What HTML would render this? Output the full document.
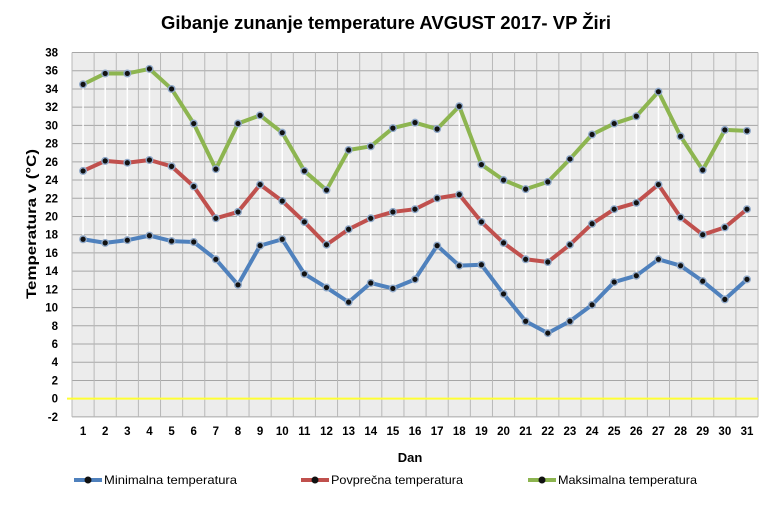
<!DOCTYPE html>
<html><head><meta charset="utf-8"><style>body{margin:0;background:#fff}svg{display:block;font-family:"Liberation Sans",sans-serif}</style></head>
<body>
<svg id="s" width="770" height="505" xmlns="http://www.w3.org/2000/svg">
<text x="386" y="29" text-anchor="middle" font-size="18" font-weight="bold" textLength="450" lengthAdjust="spacingAndGlyphs">Gibanje zunanje temperature AVGUST 2017- VP Žiri</text>
<text transform="translate(36,224) rotate(-90)" text-anchor="middle" font-size="14" font-weight="bold" textLength="150" lengthAdjust="spacingAndGlyphs">Temperatura v (°C)</text>
<text x="410" y="462" text-anchor="middle" font-size="13" font-weight="bold">Dan</text>
</svg>
<script>
const s=document.getElementById('s'),NS='http://www.w3.org/2000/svg';
function el(t,a,txt){const e=document.createElementNS(NS,t);for(const k in a)e.setAttribute(k,a[k]);if(txt!=null)e.textContent=txt;s.appendChild(e);return e;}
const L=72,W=22.13,T=52.5,U=9.11;
const X=i=>L+W*(i+0.5),Y=v=>T+(38-v)*U;
const mx=[34.5,35.7,35.7,36.2,34,30.2,25.2,30.2,31.1,29.2,25,22.9,27.3,27.7,29.7,30.3,29.6,32.1,25.7,24,23,23.8,26.3,29,30.2,31,33.7,28.8,25.1,29.5,29.4];
const av=[25,26.1,25.9,26.2,25.5,23.3,19.8,20.5,23.5,21.7,19.4,16.9,18.6,19.8,20.5,20.8,22,22.4,19.4,17.1,15.3,15,16.9,19.2,20.8,21.5,23.5,19.9,18,18.8,20.8];
const mn=[17.5,17.1,17.4,17.9,17.3,17.2,15.3,12.5,16.8,17.5,13.7,12.2,10.6,12.7,12.1,13.1,16.8,14.6,14.7,11.5,8.5,7.2,8.5,10.3,12.8,13.5,15.3,14.6,12.9,10.9,13.1];
el('rect',{x:L,y:T,width:W*31,height:40*U,fill:'#ececec'});
for(let v=-2;v<=38;v+=2){el('line',{x1:L,x2:L+W*31,y1:Y(v),y2:Y(v),stroke:'#a6a6a6','stroke-width':1});
el('text',{x:L-14,y:Y(v)+4,'text-anchor':'end','font-size':11.5,'font-weight':'bold'},v);}
for(let i=0;i<=31;i++)el('line',{x1:L+W*i,x2:L+W*i,y1:T,y2:Y(-2),stroke:'#b8b8b8','stroke-width':1});
for(let i=0;i<31;i++){el('text',{x:X(i),y:435,'text-anchor':'middle','font-size':11.5,'font-weight':'bold'},i+1);
el('line',{x1:X(i),x2:X(i),y1:Y(mx[i]),y2:Y(mn[i]),stroke:'#fff','stroke-width':1.5});}
el('line',{x1:67,x2:L+W*31,y1:Y(0),y2:Y(0),stroke:'#ffff33','stroke-width':2});
function ser(d,c){el('polyline',{points:d.map((v,i)=>X(i)+','+Y(v)).join(' '),fill:'none',stroke:c,'stroke-width':4,'stroke-linejoin':'round'});
d.forEach((v,i)=>{el('circle',{cx:X(i),cy:Y(v),r:4,fill:'#8fa8c8'});el('circle',{cx:X(i),cy:Y(v),r:2.6,fill:'#111'});});}
ser(mx,'#8db550');ser(av,'#c0504d');ser(mn,'#4f81bd');
function leg(x,c,t,w){el('line',{x1:x,x2:x+28,y1:480,y2:480,stroke:c,'stroke-width':4});el('circle',{cx:x+14,cy:480,r:3.5,fill:'#111'});el('text',{x:x+30,y:484,'font-size':12,textLength:w,lengthAdjust:'spacingAndGlyphs'},t);}
leg(74,'#4f81bd','Minimalna temperatura',133);leg(301,'#c0504d','Povprečna temperatura',132);leg(528,'#8db550','Maksimalna temperatura',139);
</script>
</body></html>
